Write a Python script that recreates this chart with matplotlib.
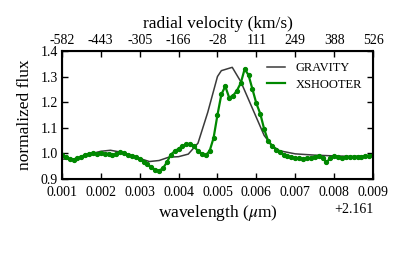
import matplotlib
matplotlib.use('Agg')
import matplotlib.pyplot as plt
import matplotlib.ticker as ticker
import numpy as np

plt.rcParams['font.family'] = ['Liberation Serif', 'DejaVu Serif']
plt.rcParams['mathtext.fontset'] = 'stix'

# offsets from 2.161 um
gravity_off = [0.00100, 0.00125, 0.00150, 0.00175, 0.00200, 0.00225, 0.00250, 0.00275,
               0.00300, 0.00325, 0.00350, 0.00375, 0.00400, 0.00425, 0.00450, 0.00475,
               0.00500, 0.00510, 0.00538, 0.00560, 0.00580, 0.00600, 0.00620, 0.00640,
               0.00660, 0.00700, 0.00750, 0.00800, 0.00850, 0.00900]
gravity_flux = [0.978, 0.976, 0.985, 0.998, 1.008, 1.012, 1.005, 0.995,
                0.980, 0.968, 0.972, 0.985, 0.987, 0.997, 1.040, 1.160,
                1.300, 1.323, 1.336, 1.280, 1.210, 1.140, 1.070, 1.030,
                1.010, 0.998, 0.993, 0.990, 0.988, 0.990]

xshooter_off = [0.0010 + 0.0001 * i for i in range(81)]
xshooter_flux = [0.992, 0.985, 0.977, 0.975, 0.980, 0.986, 0.995, 0.998, 1.000, 0.998,
                 1.002, 0.997, 0.999, 0.994, 0.997, 1.004, 1.000, 0.995, 0.990, 0.985,
                 0.976, 0.968, 0.958, 0.945, 0.936, 0.932, 0.942, 0.965, 0.995, 1.008,
                 1.018, 1.028, 1.035, 1.038, 1.028, 1.008, 0.998, 0.992, 1.010, 1.060,
                 1.150, 1.230, 1.262, 1.218, 1.225, 1.245, 1.275, 1.330, 1.305, 1.250,
                 1.195, 1.155, 1.095, 1.050, 1.030, 1.015, 1.005, 0.995, 0.988, 0.984,
                 0.981, 0.980, 0.979, 0.981, 0.982, 0.985, 0.988, 0.982, 0.966, 0.980,
                 0.990, 0.985, 0.983, 0.984, 0.985, 0.986, 0.987, 0.986, 0.990, 0.991,
                 0.992]

base = 2.161
wave_ticks = [0.001, 0.002, 0.003, 0.004, 0.005, 0.006, 0.007, 0.008, 0.009]
vel_labels = ['-582', '-443', '-305', '-166', '-28', '111', '249', '388', '526']

fig = plt.figure(figsize=(4.15, 2.56), dpi=100)
ax = fig.add_axes([0.149, 0.301, 0.750, 0.500])

ax.plot(base + np.array(gravity_off), gravity_flux, '-', color='#3a3a3a',
        linewidth=1.1, label='GRAVITY')
ax.plot(base + np.array(xshooter_off), xshooter_flux, 'o-', color='#008800',
        linewidth=1.6, markersize=2.8, label='XSHOOTER')

ax.set_xlim(base + 0.001, base + 0.009)
ax.set_ylim(0.9, 1.4)
ax.set_xticks([base + t for t in wave_ticks])
ax.set_yticks([0.9, 1.0, 1.1, 1.2, 1.3, 1.4])
fmt = ticker.ScalarFormatter(useOffset=base)
ax.xaxis.set_major_formatter(fmt)
ax.yaxis.set_major_formatter(ticker.FormatStrFormatter('%.1f'))
ax.tick_params(direction='in', length=4, width=1, labelsize=10,
               right=True, top=False, pad=3)
ax.tick_params(axis='x', pad=5)
for sp in ax.spines.values():
    sp.set_linewidth(1.5)
ax.set_xlabel(r'wavelength ($\mu$m)', fontsize=12.5, labelpad=3)
ax.set_ylabel('normalized flux', fontsize=12.5, labelpad=5)
ax.xaxis.get_offset_text().set_fontsize(10)

leg = ax.legend(loc='upper right', frameon=False, fontsize=9,
                handlelength=1.5, handletextpad=0.8, borderaxespad=0.5,
                labelspacing=0.35)
for h in leg.legend_handles:
    h.set_marker('')

ax2 = ax.twiny()
ax2.set_xlim(ax.get_xlim())
ax2.set_xticks([base + t for t in wave_ticks])
ax2.set_xticklabels(vel_labels)
ax2.tick_params(direction='in', length=4, width=1, labelsize=10, pad=3)
ax2.set_xlabel('radial velocity (km/s)', fontsize=12.5, labelpad=4)

fig.savefig('out.png', dpi=100)
